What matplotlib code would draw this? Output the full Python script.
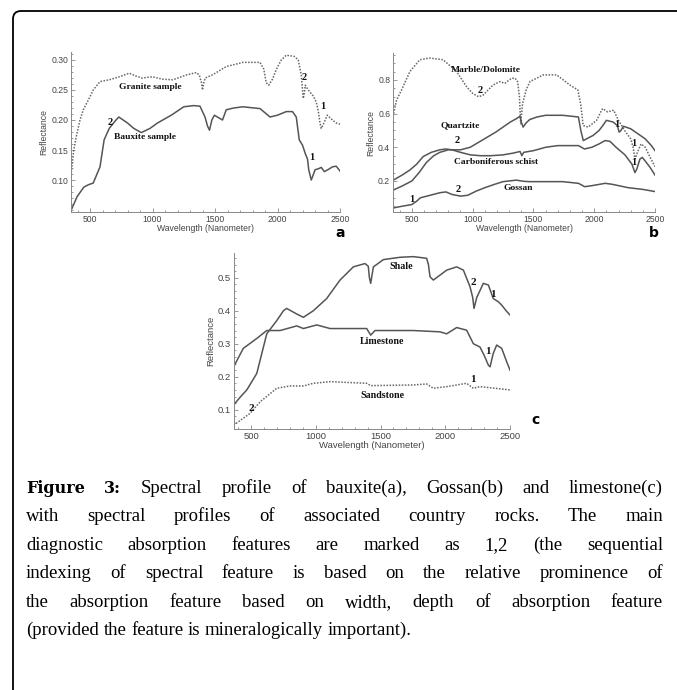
import matplotlib
matplotlib.use('Agg')
import matplotlib.pyplot as plt
import numpy as np
from matplotlib.path import Path
from matplotlib.patches import PathPatch
from matplotlib.transforms import IdentityTransform
from matplotlib.ticker import MultipleLocator, FormatStrFormatter

W, H = 677, 690

# panel a: bauxite with granite
granite_nm = [350, 370, 396, 420, 446, 486, 526, 580, 654, 734, 814, 870, 918, 998, 1080, 1163, 1270, 1350, 1374, 1392,
              1400, 1410, 1422, 1478, 1590, 1723, 1860, 1890, 1910, 1930, 1960, 1990, 2030, 2070, 2134, 2166, 2190,
              2206, 2215, 2222, 2246, 2286, 2310, 2326, 2340, 2350, 2365, 2398, 2440, 2470, 2500]
granite_r = [0.112, 0.150, 0.178, 0.200, 0.217, 0.233, 0.250, 0.264, 0.267, 0.272, 0.278, 0.273, 0.270, 0.272, 0.268,
             0.267, 0.275, 0.279, 0.275, 0.262, 0.250, 0.262, 0.270, 0.275, 0.289, 0.296, 0.296, 0.285, 0.262, 0.258,
             0.268, 0.284, 0.300, 0.308, 0.306, 0.300, 0.275, 0.236, 0.245, 0.258, 0.250, 0.240, 0.230, 0.215, 0.195,
             0.186, 0.192, 0.208, 0.200, 0.195, 0.193]
bauxite_nm = [350, 396, 450, 486, 526, 580, 613, 654, 700, 730, 800, 850, 910, 980, 1040, 1150, 1250, 1330, 1380, 1420,
              1440, 1456, 1475, 1495, 1535, 1560, 1590, 1650, 1723, 1860, 1900, 1940, 2000, 2070, 2120, 2150, 2174,
              2200, 2224, 2240, 2250, 2270, 2285, 2300, 2330, 2350, 2375, 2410, 2440, 2470, 2500]
bauxite_r = [0.050, 0.072, 0.088, 0.092, 0.095, 0.122, 0.167, 0.186, 0.198, 0.205, 0.195, 0.186, 0.179, 0.186, 0.195,
             0.208, 0.222, 0.224, 0.223, 0.205, 0.190, 0.183, 0.200, 0.208, 0.203, 0.200, 0.217, 0.220, 0.222, 0.219,
             0.212, 0.205, 0.208, 0.214, 0.214, 0.205, 0.167, 0.158, 0.143, 0.135, 0.117, 0.100, 0.108, 0.117, 0.119,
             0.121, 0.114, 0.118, 0.122, 0.123, 0.115]

# panel b: gossan with country rocks
marble_nm = [350, 374, 415, 484, 566, 648, 757, 868, 950, 1000, 1050, 1086, 1168, 1224, 1265, 1320, 1350, 1370, 1385,
             1395, 1411, 1440, 1471, 1581, 1691, 1800, 1866, 1890, 1909, 1950, 2020, 2061, 2070, 2110, 2160, 2200,
             2250, 2300, 2320, 2335, 2350, 2385, 2420, 2460, 2500]
marble_r = [0.60, 0.68, 0.74, 0.85, 0.92, 0.93, 0.92, 0.85, 0.76, 0.72, 0.70, 0.71, 0.77, 0.79, 0.78, 0.81, 0.81, 0.79,
            0.70, 0.54, 0.66, 0.74, 0.79, 0.83, 0.83, 0.77, 0.74, 0.65, 0.53, 0.52, 0.56, 0.62, 0.63, 0.61, 0.62, 0.56,
            0.50, 0.45, 0.40, 0.33, 0.36, 0.42, 0.40, 0.34, 0.285]
quartz_nm = [350, 420, 500, 560, 620, 680, 730, 800, 900, 980, 1050, 1120, 1190, 1250, 1310, 1360, 1390, 1400, 1415,
             1440, 1470, 1530, 1600, 1740, 1870, 1890, 1910, 1950, 1990, 2040, 2072, 2100, 2155, 2190, 2205, 2220,
             2240, 2300, 2360, 2420, 2470, 2500]
quartz_r = [0.147, 0.17, 0.20, 0.25, 0.31, 0.35, 0.37, 0.385, 0.385, 0.40, 0.43, 0.46, 0.49, 0.52, 0.55, 0.57, 0.585,
            0.55, 0.52, 0.545, 0.565, 0.58, 0.59, 0.59, 0.58, 0.50, 0.44, 0.455, 0.47, 0.50, 0.53, 0.56, 0.55, 0.53,
            0.49, 0.50, 0.525, 0.51, 0.48, 0.45, 0.41, 0.38]
schist_nm = [350, 420, 484, 540, 593, 660, 730, 780, 830, 900, 982, 1065, 1150, 1250, 1330, 1390, 1405, 1420, 1500,
             1600, 1700, 1800, 1870, 1920, 1980, 2040, 2090, 2130, 2180, 2253, 2310, 2335, 2350, 2376, 2395, 2418,
             2460, 2500]
schist_r = [0.206, 0.235, 0.265, 0.30, 0.345, 0.37, 0.385, 0.39, 0.385, 0.37, 0.355, 0.35, 0.35, 0.355, 0.365, 0.375,
            0.35, 0.37, 0.38, 0.40, 0.41, 0.41, 0.41, 0.39, 0.40, 0.42, 0.44, 0.435, 0.40, 0.355, 0.30, 0.25, 0.27,
            0.33, 0.34, 0.32, 0.28, 0.235]
gossan_nm = [350, 420, 500, 540, 570, 650, 730, 780, 830, 900, 960, 1030, 1100, 1180, 1250, 1360, 1400, 1420, 1470,
             1600, 1740, 1870, 1900, 1920, 1980, 2090, 2150, 2280, 2400, 2500]
gossan_r = [0.04, 0.05, 0.06, 0.08, 0.10, 0.115, 0.13, 0.135, 0.12, 0.11, 0.115, 0.14, 0.16, 0.18, 0.196, 0.205, 0.20,
            0.198, 0.196, 0.196, 0.196, 0.186, 0.175, 0.166, 0.172, 0.186, 0.18, 0.16, 0.15, 0.137]

# panel c: limestone with shale and sandstone
shale_nm = [365, 420, 467, 544, 621, 698, 750, 775, 853, 904, 981, 1084, 1187, 1290, 1380, 1405, 1414, 1424, 1435,
            1445, 1522, 1650, 1753, 1856, 1870, 1882, 1908, 2011, 2088, 2140, 2191, 2212, 2222, 2243, 2294, 2333,
            2371, 2410, 2436, 2470, 2500]
shale_r = [0.114, 0.14, 0.16, 0.21, 0.33, 0.37, 0.40, 0.407, 0.39, 0.38, 0.40, 0.437, 0.493, 0.533, 0.543, 0.535, 0.50,
           0.483, 0.51, 0.533, 0.555, 0.562, 0.564, 0.559, 0.54, 0.503, 0.493, 0.523, 0.533, 0.523, 0.473, 0.44, 0.407,
           0.44, 0.483, 0.478, 0.437, 0.427, 0.417, 0.40, 0.387]
lime_nm = [365, 440, 544, 621, 724, 853, 904, 1007, 1110, 1393, 1424, 1457, 1753, 1960, 2011, 2088, 2165, 2217, 2268,
           2300, 2333, 2346, 2370, 2397, 2436, 2470, 2500]
lime_r = [0.23, 0.286, 0.316, 0.34, 0.34, 0.354, 0.346, 0.357, 0.346, 0.346, 0.326, 0.34, 0.34, 0.336, 0.33, 0.349,
          0.341, 0.30, 0.29, 0.265, 0.235, 0.23, 0.27, 0.296, 0.286, 0.25, 0.22]
sand_nm = [365, 492, 570, 698, 801, 904, 981, 1110, 1393, 1424, 1753, 1856, 1908, 2011, 2165, 2217, 2268, 2500]
sand_r = [0.053, 0.089, 0.124, 0.165, 0.172, 0.172, 0.18, 0.185, 0.18, 0.173, 0.175, 0.178, 0.165, 0.17, 0.18, 0.165,
          0.17, 0.16]

xticks = [500, 1000, 1500, 2000, 2500]

caption = [
    "Spectral profile of bauxite(a), Gossan(b) and limestone(c)",
    "with spectral profiles of associated country rocks. The main",
    "diagnostic absorption features are marked as 1,2 (the sequential",
    "indexing of spectral feature is based on the relative prominence of",
    "the absorption feature based on width, depth of absorption feature",
    "(provided the feature is mineralogically important).",
]

fig = plt.figure(figsize=(W / 100, H / 100), dpi=100)


def px_axes(l, t, r, b):
    return fig.add_axes([l / W, 1 - b / H, (r - l) / W, (b - t) / H])


def style(ax, xlim, ylim, yticks, yfmt, yminor, fs):
    ax.set_xlim(*xlim)
    ax.set_ylim(*ylim)
    ax.set_xticks(xticks)
    ax.set_yticks(yticks)
    ax.yaxis.set_major_formatter(FormatStrFormatter(yfmt))
    ax.xaxis.set_minor_locator(MultipleLocator(100))
    ax.yaxis.set_minor_locator(MultipleLocator(yminor))
    for s in ['top', 'right']:
        ax.spines[s].set_visible(False)
    for s in ['left', 'bottom']:
        ax.spines[s].set_color('#888888')
        ax.spines[s].set_linewidth(0.7)
    ax.tick_params(which='both', direction='in', colors='#888888', width=0.6, labelcolor='#444444',
                   labelsize=fs, pad=2)
    ax.tick_params(which='major', length=3)
    ax.tick_params(which='minor', length=1.5)
    for lab in ax.get_xticklabels() + ax.get_yticklabels():
        lab.set_family('Liberation Sans')
    ax.set_xlabel('Wavelength (Nanometer)', fontsize=fs, color='#444444', family='Liberation Sans', labelpad=0)
    ax.set_ylabel('Reflectance', fontsize=fs, color='#444444', family='Liberation Sans', labelpad=2)
    ax.patch.set_alpha(0)


def tag(ax, x, y, s, fs=6.8):
    ax.text(x, y, s, fontsize=fs, weight='bold', family='Liberation Serif', ha='center', va='center', color='#111111')


solid = dict(color='#555555', lw=1.1)
dotted = dict(color='#666666', lw=1.1, ls=(0, (1, 1)))

# a
ax = px_axes(71.25, 52, 340, 212)
ax.plot(granite_nm, granite_r, **dotted)
ax.plot(bauxite_nm, bauxite_r, **solid)
style(ax, (350, 2500), (0.0467, 0.3133), [0.10, 0.15, 0.20, 0.25, 0.30], '%.2f', 0.01, 6.2)
tag(ax, 980, 0.255, 'Granite sample')
tag(ax, 940, 0.172, 'Bauxite sample')
tag(ax, 660, 0.195, '2', 7.5)
tag(ax, 2212, 0.27, '2', 7.5)
tag(ax, 2364, 0.222, '1', 7.5)
tag(ax, 2276, 0.137, '1', 7.5)

# b
ax = px_axes(393, 53, 655, 212)
ax.plot(marble_nm, marble_r, **dotted)
ax.plot(quartz_nm, quartz_r, **solid)
ax.plot(schist_nm, schist_r, **solid)
ax.plot(gossan_nm, gossan_r, **solid)
style(ax, (345, 2500), (0.0157, 0.96), [0.2, 0.4, 0.6, 0.8], '%.1f', 0.05, 6.2)
tag(ax, 1109, 0.86, 'Marble/Dolomite')
tag(ax, 1060, 0.74, '2', 7.5)
tag(ax, 895, 0.53, 'Quartzite')
tag(ax, 870, 0.44, '2', 7.5)
tag(ax, 1191, 0.31, 'Carboniferous schist')
tag(ax, 1372, 0.158, 'Gossan')
tag(ax, 879, 0.152, '2', 7.5)
tag(ax, 500, 0.087, '1', 7.5)
tag(ax, 2187, 0.533, '1', 7.5)
tag(ax, 2327, 0.42, '1', 7.5)
tag(ax, 2327, 0.307, '1', 7.5)

# c
ax = px_axes(234, 253, 510, 429)
ax.plot(shale_nm, shale_r, **solid)
ax.plot(lime_nm, lime_r, **solid)
ax.plot(sand_nm, sand_r, **dotted)
style(ax, (368, 2500), (0.0415, 0.575), [0.1, 0.2, 0.3, 0.4, 0.5], '%.1f', 0.02, 6.8)
tag(ax, 1658, 0.535, 'Shale', 7.2)
tag(ax, 1512, 0.308, 'Limestone', 7.2)
tag(ax, 1512, 0.142, 'Sandstone', 7.2)
tag(ax, 2214, 0.487, '2', 8)
tag(ax, 2369, 0.448, '1', 8)
tag(ax, 2330, 0.275, '1', 8)
tag(ax, 2214, 0.193, '1', 8)
tag(ax, 500, 0.105, '2', 8)

# panel letters
for s, x, y in [('a', 340, 233), ('b', 654, 233), ('c', 535, 420)]:
    fig.text(x / W, 1 - y / H, s, fontsize=10, weight='heavy', family='DejaVu Sans', ha='center', va='center')

# frame: top and left edges with rounded corner
r = 8
verts = [(13, H), (13, 11 + r), (13, 11), (13 + r, 11), (W + 5, 11)]
verts = [(x, H - y) for x, y in verts]
codes = [Path.MOVETO, Path.LINETO, Path.CURVE3, Path.CURVE3, Path.LINETO]
fig.patches.append(PathPatch(Path(verts, codes), fill=False, lw=1.3, ec='black', transform=IdentityTransform()))

# justified caption
renderer = fig.canvas.get_renderer()
x0, x1 = 26, 663
fs = 13.5
base = [493, 521, 550, 578, 607, 635]
for i, line in enumerate(caption):
    words = [(w, 'normal', 'Liberation Serif', fs) for w in line.split()]
    if i == 0:
        words = [('Figure', 'bold', 'DejaVu Serif', 11.5), ('3:', 'bold', 'DejaVu Serif', 11.5)] + words
    texts = [fig.text(0, 0, w, fontsize=size, family=fam, weight=wt, va='baseline',
                      transform=IdentityTransform()) for w, wt, fam, size in words]
    widths = [t.get_window_extent(renderer).width for t in texts]
    if i < len(caption) - 1:
        gap = (x1 - x0 - sum(widths)) / (len(texts) - 1)
    else:
        gap = fs * 100 / 72 * 0.25
    x = x0
    for t, w in zip(texts, widths):
        t.set_position((x, H - base[i]))
        x += w + gap

fig.savefig('out.png', dpi=100)
